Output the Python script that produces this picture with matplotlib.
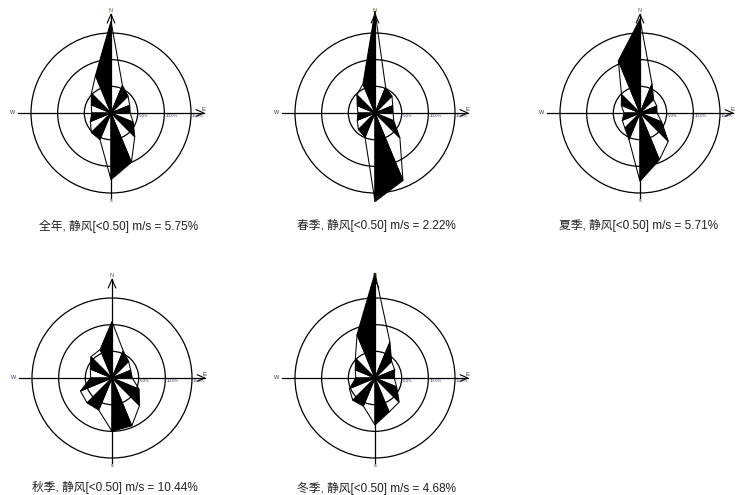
import numpy as np
import matplotlib.pyplot as plt
from matplotlib.patches import Polygon, Circle

plt.rcParams['font.family'] = ['Liberation Sans', 'Noto Sans CJK SC', 'DejaVu Sans']

# 16 compass directions, clockwise from north; frequency in %
directions = ['N', 'NNE', 'NE', 'ENE', 'E', 'ESE', 'SE', 'SSE',
              'S', 'SSW', 'SW', 'WSW', 'W', 'WNW', 'NW', 'NNW']
freq_year = [17.2, 5.6, 4.5, 3.8, 3.6, 4.5, 6.3, 10.0, 12.5, 5.4, 5.2, 4.2, 3.6, 4.0, 5.2, 7.6]
freq_spring = [19.1, 5.2, 4.5, 3.6, 3.4, 3.8, 6.6, 13.7, 16.6, 4.9, 4.4, 3.6, 3.2, 3.6, 4.8, 5.9]
freq_summer = [17.6, 5.9, 3.6, 3.4, 3.2, 4.4, 7.5, 9.5, 12.8, 5.4, 4.0, 3.6, 3.0, 3.8, 4.9, 10.6]
freq_autumn = [10.6, 5.5, 4.4, 3.8, 3.8, 5.5, 7.3, 9.7, 10.0, 6.5, 6.6, 6.4, 4.0, 4.4, 5.6, 5.8]
freq_winter = [19.7, 7.3, 4.4, 4.0, 3.6, 4.4, 6.4, 6.9, 8.8, 5.7, 5.9, 5.2, 3.6, 4.0, 5.2, 8.8]

seasons = ['全年', '春季', '夏季', '秋季', '冬季']
calm = [5.75, 2.22, 5.71, 10.44, 4.68]
calm_limit = 0.50

rings = [5, 10, 15]
ring_labels = ['5.0%', '10.0%', '15.0%']

all_freq = [freq_year, freq_spring, freq_summer, freq_autumn, freq_winter]

# rose centres in pixels (x from left, y from top)
centers = [(111, 113), (375, 113), (640, 113), (112, 378), (375, 378)]
caption_pos = [(119, 226), (376, 226), (639, 226), (115, 488), (376, 488)]

W, H = 736, 495
half = 20.0          # axis half-range in %
px_per_unit = 5.333  # pixels per percent


def draw_rose(ax, freq):
    theta = np.deg2rad(np.arange(len(freq)) * 360.0 / len(freq))
    r = np.asarray(freq)
    xs = r * np.sin(theta)
    ys = r * np.cos(theta)
    n = len(freq)

    # sectors between neighbouring directions, alternately black / open
    for i in range(n):
        j = (i - 1) % n
        pts = [(0, 0), (xs[j], ys[j]), (xs[i], ys[i])]
        filled = (i % 2 == 0)
        ax.add_patch(Polygon(pts, closed=True,
                             facecolor='black' if filled else 'none',
                             edgecolor='black', linewidth=0.75, zorder=3))

    for rr in rings:
        ax.add_patch(Circle((0, 0), rr, fill=False, edgecolor='black',
                            linewidth=0.9, zorder=2))

    # compass axes
    ax.plot([-17.4, 17.4], [0, 0], color='black', lw=0.9, zorder=2)
    ax.plot([0, 0], [-16.0, 18.5], color='black', lw=0.9, zorder=2)
    ax.plot([-0.7, 0, 0.7], [16.9, 18.5, 16.9], color='black', lw=0.8, zorder=4)
    ax.plot([16.0, 17.4, 16.0], [0.6, 0, -0.6], color='black', lw=0.8, zorder=4)

    for rr, lab in zip(rings, ring_labels):
        ax.text(rr + 0.2, -0.15, lab, fontsize=3.2, color='#3a3a60',
                ha='left', va='top', zorder=5)

    ax.text(0, 18.7, 'N', fontsize=4, color='#705030', ha='center', va='bottom')
    ax.text(-17.9, 0.1, 'W', fontsize=4, color='#303050', ha='right', va='center')
    ax.text(17.0, 0.15, 'E', fontsize=4.5, color='#303050', ha='left', va='bottom')
    ax.text(0, -16.0, 's', fontsize=4, color='#303050', ha='center', va='top')

    ax.set_xlim(-half, half)
    ax.set_ylim(-half, half)
    ax.set_aspect('equal')
    ax.axis('off')


fig = plt.figure(figsize=(W / 100, H / 100), dpi=100)
size = 2 * half * px_per_unit

for k, freq in enumerate(all_freq):
    cx, cy = centers[k]
    ax = fig.add_axes([(cx - size / 2) / W, (H - cy - size / 2) / H, size / W, size / H])
    draw_rose(ax, freq)
    tx, ty = caption_pos[k]
    fig.text(tx / W, 1 - ty / H,
             f'{seasons[k]}, 静风[<{calm_limit:.2f}] m/s = {calm[k]:.2f}%',
             fontsize=8.5, ha='center', va='center', color='#202020')

fig.savefig('out.png', dpi=100)
